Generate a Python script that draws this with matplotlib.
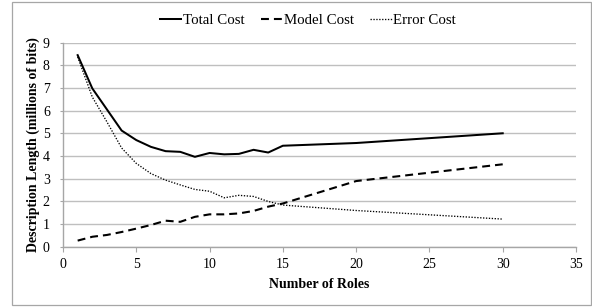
import matplotlib
matplotlib.use("Agg")
import matplotlib.pyplot as plt
from matplotlib.patches import Rectangle
from matplotlib.lines import Line2D

roles = [1, 2, 3, 4, 5, 6, 7, 8, 9, 10, 11, 12, 13, 14, 15, 20, 30]
total_cost = [8.45, 6.98, 6.05, 5.12, 4.70, 4.40, 4.21, 4.18, 3.96, 4.13,
              4.07, 4.09, 4.27, 4.15, 4.45, 4.57, 5.00]
model_cost = [0.26, 0.43, 0.51, 0.64, 0.79, 0.95, 1.14, 1.09, 1.31, 1.42,
              1.42, 1.46, 1.57, 1.76, 1.90, 2.89, 3.63]
error_cost = [8.37, 6.60, 5.50, 4.35, 3.67, 3.22, 2.93, 2.72, 2.52, 2.44,
              2.15, 2.26, 2.21, 1.99, 1.83, 1.59, 1.21]
series_names = ["Total Cost", "Model Cost", "Error Cost"]
x_label = "Number of Roles"
y_label = "Description Length (millions of bits)"

plt.rcParams['font.family'] = ['Liberation Serif', 'DejaVu Serif']

W, H = 592, 307
fig = plt.figure(figsize=(W / 100, H / 100), dpi=100)
ax = fig.add_axes([63 / W, 1 - 246.5 / H, (576 - 63) / W, (246.5 - 42.7) / H])

# outer frame
fig.patches.append(Rectangle((12 / W, 1 - 305 / H), (590.5 - 12) / W, (305 - 2) / H,
                             transform=fig.transFigure, fill=False,
                             edgecolor='#a6a6a6', linewidth=0.9))

dot_style = (0, (1, 1.2))
ax.plot(roles, total_cost, color='black', linewidth=1.45)
ax.plot(roles, model_cost, color='black', linewidth=1.5, linestyle=(0, (3.8, 2.4)))
ax.plot(roles, error_cost, color='black', linewidth=0.95, linestyle=dot_style,
        dash_capstyle='butt')

ax.set_xlim(0, 35)
ax.set_ylim(0, 9)
ax.set_xticks(range(0, 36, 5))
ax.set_yticks(range(0, 10))
ax.yaxis.grid(True, color='#bfbfbf', linewidth=1.0)
ax.set_axisbelow(True)
for s in ['top', 'right']:
    ax.spines[s].set_visible(False)
for s in ['left', 'bottom']:
    ax.spines[s].set_color('#a6a6a6')
    ax.spines[s].set_linewidth(1.0)
ax.tick_params(axis='x', direction='out', length=3.6, width=0.8, color='#a6a6a6',
               pad=5, labelsize=10)
ax.tick_params(axis='y', direction='out', length=2.5, width=0.8, color='#a6a6a6',
               pad=7, labelsize=10)

ax.set_xlabel(x_label, fontsize=10, fontweight='bold', labelpad=5)
ax.set_ylabel(y_label, fontsize=10, fontweight='bold', labelpad=2)

handles = [
    Line2D([], [], color='black', linewidth=1.45),
    Line2D([], [], color='black', linewidth=1.5, linestyle=(0, (3.8, 2.4))),
    Line2D([], [], color='black', linewidth=0.95, linestyle=dot_style),
]
fig.legend(handles, series_names, loc='center', bbox_to_anchor=(308 / W, 1 - 20 / H),
           ncol=3, frameon=False, fontsize=10.7, handlelength=1.45,
           handletextpad=0.1, columnspacing=1.1, borderpad=0)

fig.savefig("out.png", dpi=100)
